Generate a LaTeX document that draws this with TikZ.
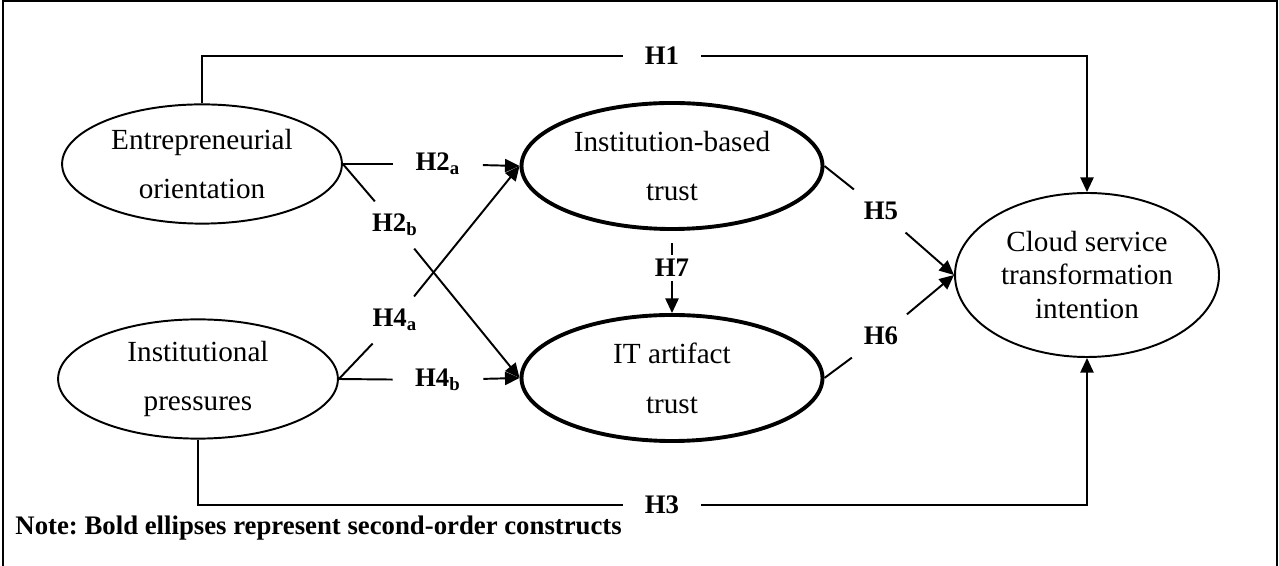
\documentclass[tikz,border=0pt]{standalone}
\usepackage{fontspec}
\setmainfont{Liberation Serif}
\usetikzlibrary{arrows.meta,shapes.geometric}
\frenchspacing

\tikzset{
  construct/.style={draw,ellipse,line width=0.8pt,inner sep=0pt,align=center,
    font=\fontsize{12}{20.5}\selectfont},
  secondorder/.style={construct,line width=1.6pt},
  hyp/.style={font=\fontsize{11}{13}\selectfont\bfseries,inner xsep=9pt,inner ysep=5pt},
  link/.style={line width=0.8pt},
  arr/.style={-{Triangle[length=6pt,width=5.4pt]}}
}

\begin{document}
\begin{tikzpicture}[x=0.411pt,y=-0.411pt]
\useasboundingbox (0,0) rectangle (1279,566);
\draw[line width=1.2pt] (3,566) -- (3,1) -- (1277,1) -- (1277,566);

\node[construct,minimum width=115pt,minimum height=49pt] (eo) at (202,164) {Entrepreneurial\\orientation};
\node[construct,minimum width=115pt,minimum height=49pt] (ip) at (198,379) {Institutional\\pressures};
\node[secondorder,minimum width=123.7pt,minimum height=51.8pt] (ibt) at (672,166) {Institution-based\\trust};
\node[secondorder,minimum width=123.7pt,minimum height=51.8pt] (itat) at (672,378) {IT artifact\\trust};
\node[construct,minimum width=108.5pt,minimum height=67.4pt,font=\fontsize{12}{13.8}\selectfont] (cloud) at (1087,275) {Cloud service\\transformation\\intention};

\node[hyp] (h1) at (662,56) {H1};
\node[hyp] (h2a) at (438,164) {H2\textsubscript{a}};
\node[hyp] (h2b) at (395,225) {H2\textsubscript{b}};
\node[hyp] (h3) at (662,505) {H3};
\node[hyp] (h4a) at (395,320) {H4\textsubscript{a}};
\node[hyp] (h4b) at (438,380) {H4\textsubscript{b}};
\node[hyp] (h5) at (881,211) {H5};
\node[hyp] (h6) at (881,336) {H6};
\node[hyp,inner ysep=1.5pt] (h7) at (672,268) {H7};

\node[anchor=west,inner sep=0pt,font=\fontsize{11}{13}\selectfont\bfseries] (note) at (15,528) {Note: Bold ellipses represent second-order constructs};

\draw[link] (eo.north) |- (h1);
\draw[link,arr] (h1) -| (cloud.north);
\draw[link] (ip.south) |- (h3);
\draw[link,arr] (h3) -| (cloud.south);

\draw[link] (eo.east) -- (h2a);
\draw[link,arr] (h2a) -- (ibt.west);
\draw[link] (eo.east) -- (h2b);
\draw[link,arr] (h2b) -- (itat.west);
\draw[link] (ip.east) -- (h4a);
\draw[link,arr] (h4a) -- (ibt.west);
\draw[link] (ip.east) -- (h4b);
\draw[link,arr] (h4b) -- (itat.west);

\draw[link] (ibt.east) -- (h5);
\draw[link,arr] (h5) -- (cloud.west);
\draw[link] (itat.east) -- (h6);
\draw[link,arr] (h6) -- (cloud.west);
\draw[link,shorten <=5pt] (ibt.south) -- (h7);
\draw[link,arr] (h7) -- (itat.north);
\end{tikzpicture}
\end{document}
